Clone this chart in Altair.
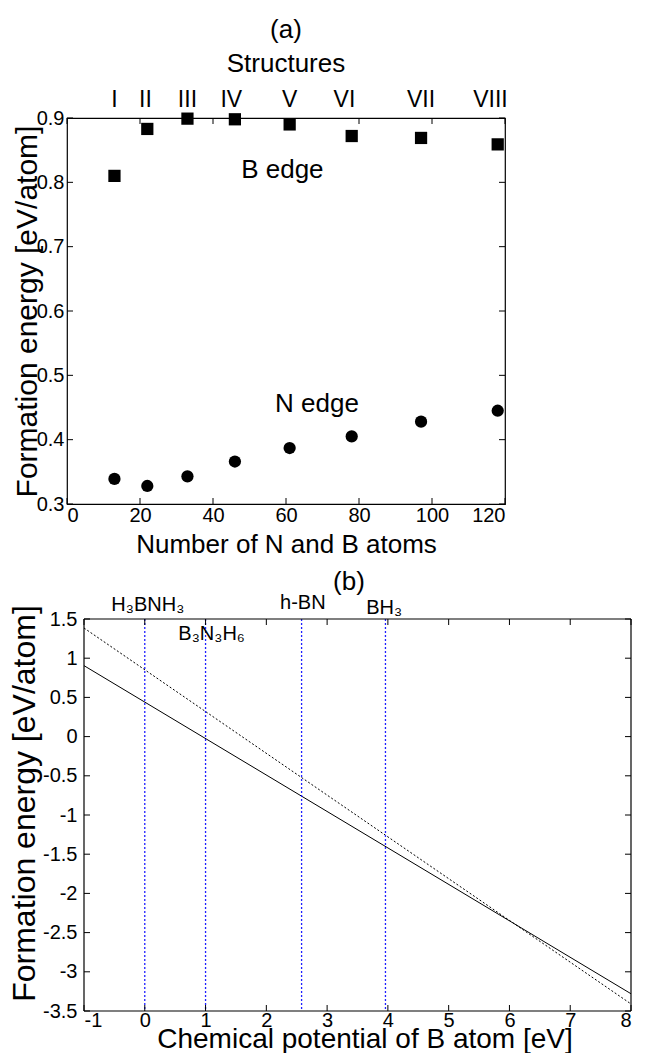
import altair as alt
import pandas as pd

# ---------------- data: panel (a) ----------------
n_atoms = [13, 22, 33, 46, 61, 78, 97, 118]
b_edge = [0.810, 0.883, 0.899, 0.898, 0.890, 0.872, 0.869, 0.859]
n_edge = [0.339, 0.328, 0.343, 0.366, 0.387, 0.405, 0.428, 0.445]
structures = ["I", "II", "III", "IV", "V", "VI", "VII", "VIII"]
structure_pos = [13, 21.5, 33, 45, 61, 76, 97, 116]
structure_y = [0.928] * 8
edge_names = ["B edge", "N edge"]
edge_label_x = [59, 68.5]
edge_label_y = [0.819, 0.455]
a_xticks = [0, 20, 40, 60, 80, 100, 120]
a_yticks = [0.3, 0.4, 0.5, 0.6, 0.7, 0.8, 0.9]

# ---------------- data: panel (b) ----------------
mu_domain = [-1, 8]
e_domain = [-3.5, 1.5]
mu_ends = [-1, 8]
e_solid = [0.905, -3.28]
e_dotted = [1.385, -3.41]
ref_names = ["H₃BNH₃", "B₃N₃H₆", "h-BN", "BH₃"]
ref_mu = [0.0, 1.0, 2.58, 3.96]
ref_label_x = [0.05, 1.1, 2.6, 3.94]
ref_label_y = [1.68, 1.31, 1.70, 1.64]
b_xticks = [-1, 0, 1, 2, 3, 4, 5, 6, 7, 8]
b_yticks = [1.5, 1, 0.5, 0, -0.5, -1, -1.5, -2, -2.5, -3, -3.5]

FONT = "Liberation Sans"
W1, H1 = 438, 386
SHIFT = 17            # panel (b) plot starts this far right of panel (a)
W2, H2 = 547, 392
TL = 6  # inward tick length


def frame_ticks(xvals, yvals, X, Y, x0, x1, H):
    dx = pd.DataFrame({"v": xvals})
    dy = pd.DataFrame({"v": yvals})
    bx = alt.Chart(dx).mark_rule(color="black", strokeWidth=1)
    by = alt.Chart(dy).mark_rule(color="black", strokeWidth=1)
    return alt.layer(
        bx.encode(x=X("v:Q"), y=alt.value(H), y2=alt.value(H - TL)),
        bx.encode(x=X("v:Q"), y=alt.value(0), y2=alt.value(TL)),
        by.encode(y=Y("v:Q"), x=alt.value(x0), x2=alt.value(x0 + TL)),
        by.encode(y=Y("v:Q"), x=alt.value(x1 - TL), x2=alt.value(x1)),
    )


# ---------------- panel (a) ----------------
xs_a = alt.Scale(domain=[0, 120], nice=False, zero=False)
ys_a = alt.Scale(domain=[0.3, 0.9], nice=False, zero=False)
ax_a_x = alt.Axis(orient="bottom", values=a_xticks, format="d", title="Number of N and B atoms",
                  domain=False, ticks=False, labelPadding=1, titlePadding=6, grid=False)
ax_a_y = alt.Axis(orient="left", values=a_yticks, format=".1f", title="Formation energy [eV/atom]",
                  titleFontSize=30,
                  domain=False, ticks=False, labelPadding=3, titlePadding=-6, grid=False)


def XA(f):
    return alt.X(f, scale=xs_a, axis=ax_a_x)


def YA(f):
    return alt.Y(f, scale=ys_a, axis=ax_a_y)


df_a = pd.DataFrame({"n": n_atoms, "b": b_edge, "nn": n_edge})
df_edge = pd.DataFrame({"name": edge_names, "x": edge_label_x, "y": edge_label_y})
df_struct = pd.DataFrame({"x": structure_pos, "y": structure_y, "name": structures})

squares = alt.Chart(df_a).mark_point(shape="square", filled=True, size=150, color="black", opacity=1).encode(
    x=XA("n:Q"), y=YA("b:Q"))
circles = alt.Chart(df_a).mark_circle(size=150, color="black", opacity=1).encode(
    x=XA("n:Q"), y=YA("nn:Q"))
edge_text = alt.Chart(df_edge).mark_text(fontSize=26, font=FONT, color="black").encode(
    x=XA("x:Q"), y=YA("y:Q"), text="name:N")
struct_text = alt.Chart(df_struct).mark_text(fontSize=23, font=FONT, color="black").encode(
    x=XA("x:Q"), y=YA("y:Q"), text="name:N")

panel_a = alt.layer(
    squares, circles, edge_text, struct_text,
    frame_ticks(a_xticks, a_yticks, XA, YA, 0, W1, H1),
).properties(
    width=W1, height=H1,
    view=alt.ViewBackground(stroke="black", strokeWidth=1.2),
    title=alt.TitleParams("(a)", subtitle="Structures", fontSize=26, subtitleFontSize=26,
                          font=FONT, subtitleFont=FONT, fontWeight="normal",
                          anchor="middle", frame="group", offset=12, subtitlePadding=8,
                          color="black", subtitleColor="black"),
)

# ---------------- panel (b) ----------------
xs_b = alt.Scale(domain=mu_domain, nice=False, zero=False, range=[SHIFT, SHIFT + W2])
ys_b = alt.Scale(domain=e_domain, nice=False, zero=False)
lab_expr = "'' + datum.value"
ax_b_x = alt.Axis(orient="bottom", values=b_xticks, labelExpr=lab_expr,
                  title="Chemical potential of B atom [eV]", titleFontSize=28,
                  titleX=SHIFT + W2 / 2 + 7,
                  domain=False, ticks=False, labelPadding=-1, titlePadding=-5, grid=False)
ax_b_y = alt.Axis(orient="left", values=b_yticks, labelExpr=lab_expr, title="Formation energy [eV/atom]",
                  offset=-SHIFT, titleY=184, titleFontSize=32,
                  domain=False, ticks=False, labelPadding=7, titlePadding=1, grid=False)


def XB(f):
    return alt.X(f, scale=xs_b, axis=ax_b_x)


def YB(f):
    return alt.Y(f, scale=ys_b, axis=ax_b_y)


df_solid = pd.DataFrame({"mu": mu_ends, "e": e_solid})
df_dotted = pd.DataFrame({"mu": mu_ends, "e": e_dotted})
df_ref = pd.DataFrame({"mu": ref_mu})
df_ref_lab = pd.DataFrame({"name": ref_names, "x": ref_label_x, "y": ref_label_y})
df_vframe = pd.DataFrame({"mu": mu_domain})
df_hframe = pd.DataFrame({"e": e_domain, "m0": [mu_domain[0]] * 2, "m1": [mu_domain[1]] * 2})

solid = alt.Chart(df_solid).mark_line(color="black", strokeWidth=1).encode(
    x=XB("mu:Q"), y=YB("e:Q"))
dotted = alt.Chart(df_dotted).mark_line(color="black", strokeWidth=1, strokeDash=[2, 2]).encode(
    x=XB("mu:Q"), y=YB("e:Q"))
vlines = alt.Chart(df_ref).mark_rule(stroke="#1f1fff", color="#1f1fff", strokeWidth=1.3,
                                     strokeDash=[2, 2]).encode(x=XB("mu:Q"))
ref_text = alt.Chart(df_ref_lab).mark_text(fontSize=20, font=FONT, color="black").encode(
    x=XB("x:Q"), y=YB("y:Q"), text="name:N")
vframe = alt.Chart(df_vframe).mark_rule(color="black", strokeWidth=1.2).encode(x=XB("mu:Q"))
hframe = alt.Chart(df_hframe).mark_rule(color="black", strokeWidth=1.2).encode(
    y=YB("e:Q"), x=XB("m0:Q"), x2="m1:Q")

panel_b = alt.layer(
    dotted, solid, vlines, ref_text, vframe, hframe,
    frame_ticks(b_xticks, b_yticks, XB, YB, SHIFT, SHIFT + W2, H2),
).properties(
    width=SHIFT + W2, height=H2,
    view=alt.ViewBackground(stroke="transparent", strokeWidth=0),
    title=alt.TitleParams("(b)", fontSize=26, font=FONT, fontWeight="normal",
                          anchor="middle", frame="group", offset=-2, color="black"),
)

chart = alt.vconcat(
    panel_a, panel_b, spacing=11
).configure_axis(
    labelFont=FONT, titleFont=FONT, labelFontSize=20, titleFontSize=26,
    labelColor="black", titleColor="black", titleFontWeight="normal",
).configure_axisLeft(
    titleFontSize=31,
).properties(padding={"top": 8, "left": 0, "right": 0, "bottom": 0})

chart.save("out.html", embed_options={"renderer": "svg", "actions": False})
